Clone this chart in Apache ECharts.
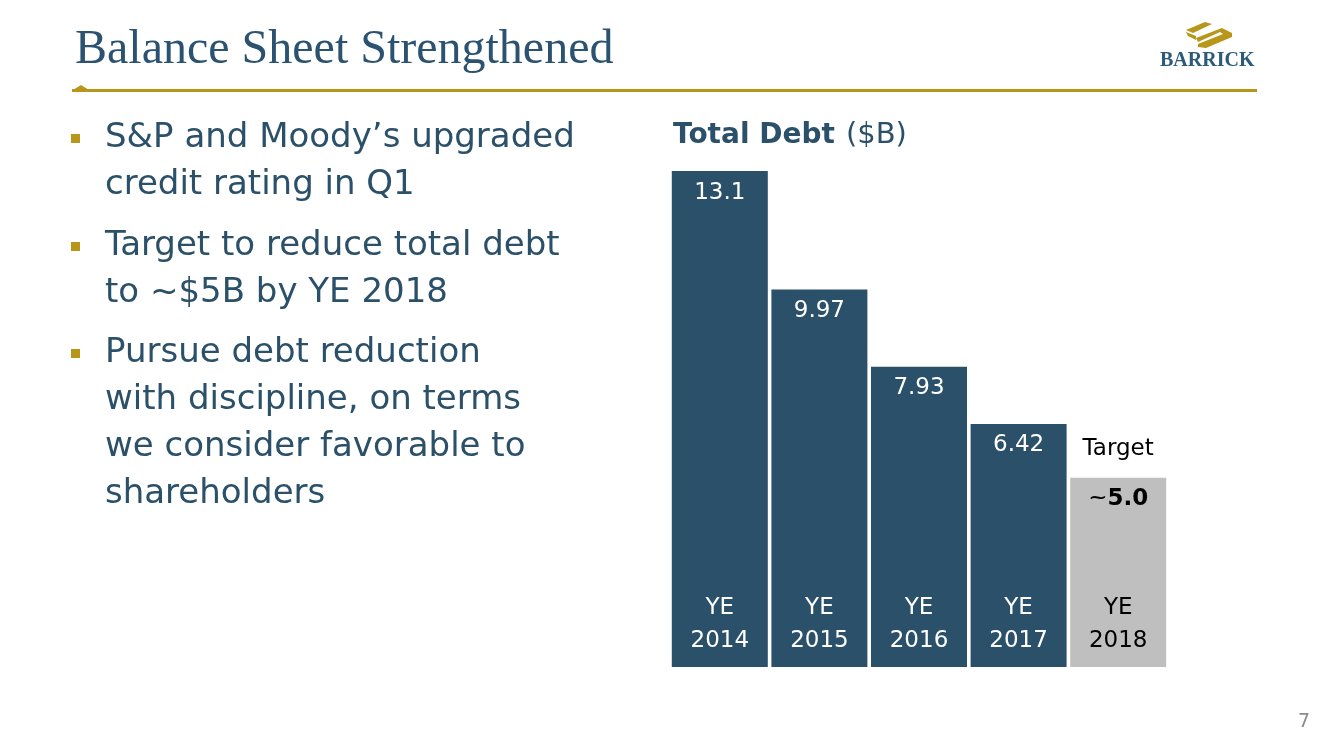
<!DOCTYPE html>
<html lang="en">
<head>
    <meta charset="UTF-8" />
    <title>Balance Sheet Strengthened</title>
    <style>
      html, body { margin: 0; padding: 0; background: #fff; }
    </style>
</head>
<body>
<div id="main" style="width: 1320px; height: 740px"></div>
<script src="https://cdn.jsdelivr.net/npm/echarts@6.0.0/dist/echarts.min.js"></script>
<script>
  // data
  var years = ["YE\n2014", "YE\n2015", "YE\n2016", "YE\n2017", "YE\n2018"];
  var debt = [13.1, 9.97, 7.93, 6.42, 5.0];
  var debtLabels = ["13.1", "9.97", "7.93", "6.42", "~5.0"];
  var bullets = [
    "S&P and Moody\u2019s upgraded\ncredit rating in Q1",
    "Target to reduce total debt\nto ~$5B by YE 2018",
    "Pursue debt reduction\nwith discipline, on terms\nwe consider favorable to\nshareholders"
  ];

  var navy = "#2b5069";
  var gold = "#b8961a";
  var grey = "#bfbfbf";
  var font = "DejaVu Sans";

  var myChart = echarts.init(document.getElementById("main"));

  // bullets on the left
  var bulletGraphics = [];
  var tops = [115, 223, 330];
  bullets.forEach(function (b, i) {
    bulletGraphics.push({
      type: "rect", left: 71, top: tops[i] + 19,
      shape: { width: 9, height: 9 }, style: { fill: gold }
    });
    bulletGraphics.push({
      type: "text", left: 105, top: tops[i],
      style: { text: b, fill: navy, font: "34px '" + font + "'", lineHeight: 47 }
    });
  });

  var option = {
    backgroundColor: "#fff",
    animation: false,
    title: {
      text: "{b|Total Debt} {n|($B)}",
      left: 668, top: 116,
      textStyle: {
        rich: {
          b: { fontFamily: font, fontWeight: "bold", fontSize: 28, color: navy },
          n: { fontFamily: font, fontWeight: "normal", fontSize: 29, color: navy, padding: [0, 0, 0, 6] }
        }
      }
    },
    grid: { left: 670, top: 137, width: 498, bottom: 73 },
    xAxis: {
      type: "category",
      data: years,
      z: 10,
      axisLine: { show: false },
      axisTick: { show: false },
      axisLabel: {
        inside: true,
        margin: 9,
        fontFamily: font,
        fontSize: 23,
        lineHeight: 33,
        color: function (v, i) { return i === 4 ? "#000" : "#fff"; }
      }
    },
    yAxis: { type: "value", min: 0, max: 14, show: false },
    series: [
      {
        type: "bar",
        barWidth: 96,
        data: debt.map(function (v, i) {
          return {
            value: v,
            itemStyle: { color: i === 4 ? grey : navy },
            label: i === 4
              ? { formatter: "{t|~}{b|5.0}" }
              : { formatter: debtLabels[i] }
          };
        }),
        label: {
          show: true,
          position: "insideTop",
          distance: 10,
          fontFamily: font,
          fontSize: 23,
          color: "#fff",
          rich: {
            t: { fontFamily: font, fontSize: 23, color: "#000" },
            b: { fontFamily: font, fontSize: 23, fontWeight: "bold", color: "#000" }
          }
        }
      },
      {
        // "Target" tag above the last bar
        type: "bar",
        barWidth: 96,
        barGap: "-100%",
        silent: true,
        itemStyle: { color: "transparent" },
        data: debt.map(function (v, i) {
          return { value: v, label: { show: i === 4 } };
        }),
        label: {
          position: "top",
          distance: 17,
          formatter: "Target",
          fontFamily: font,
          fontSize: 23,
          color: "#000"
        }
      }
    ],
    graphic: [
      {
        type: "text", left: 75, top: 26,
        style: { text: "Balance Sheet Strengthened", fill: "#2b5371", font: "48px 'Liberation Serif'" }
      },
      { type: "rect", left: 72, top: 89, shape: { width: 1185, height: 3 }, style: { fill: gold } },
      { type: "polygon", shape: { points: [[73, 90], [81, 85], [89, 90]] }, style: { fill: gold } },
      // logo mark
      { type: "polygon", shape: { points: [[1186, 30], [1205, 22], [1212, 24], [1193, 33]] }, style: { fill: gold } },
      { type: "polygon", shape: { points: [[1186, 32], [1196, 36], [1196, 40], [1188, 36]] }, style: { fill: gold } },
      { type: "polygon", shape: { points: [[1196, 38], [1222, 28], [1232, 33], [1232, 37], [1206, 48], [1198, 47], [1198, 44], [1223, 34], [1220, 32], [1198, 42]] }, style: { fill: gold } },
      {
        type: "text", left: 1160, top: 51,
        style: { text: "BARRICK", fill: "#2b5a7a", font: "bold 20px 'Liberation Serif'" }
      },
      {
        type: "text", left: 1298, top: 713,
        style: { text: "7", fill: "#8c8c8c", font: "19px '" + font + "'" }
      }
    ].concat(bulletGraphics)
  };
  myChart.setOption(option);
</script>
</body>
</html>
